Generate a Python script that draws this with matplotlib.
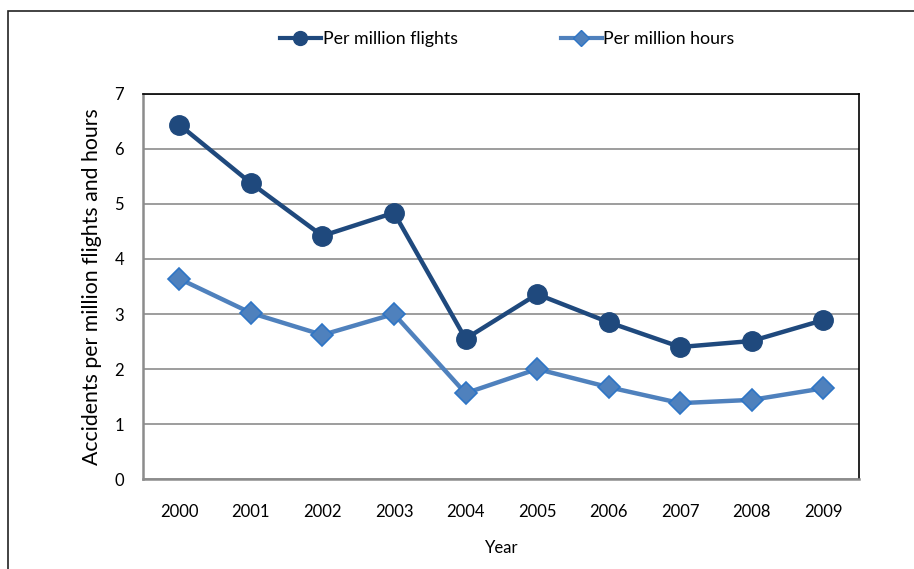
import matplotlib.pyplot as plt
from matplotlib.lines import Line2D
from matplotlib.patches import Rectangle

years = ['2000', '2001', '2002', '2003', '2004', '2005', '2006', '2007', '2008', '2009']
per_flights = [6.44, 5.38, 4.42, 4.84, 2.55, 3.36, 2.85, 2.40, 2.51, 2.89]
per_hours = [3.64, 3.02, 2.62, 3.00, 1.56, 2.00, 1.67, 1.38, 1.44, 1.65]

dark = '#1F497D'
light = '#4F81BD'
edge = '#2E75C6'

plt.rcParams['font.family'] = ['Lato', 'DejaVu Sans']

fig = plt.figure(figsize=(9.14, 5.69), dpi=100)
ax = fig.add_axes([0.157, 0.158, 0.783, 0.677])

# outer chart frame
fig.patches.append(Rectangle((8 / 914, -0.05), 1.0, 1.05 - 11 / 569, transform=fig.transFigure,
                             fill=False, edgecolor='#222222', linewidth=1.2))

x = range(len(years))
ax.plot(x, per_flights, color=dark, linewidth=3.2, marker='o', markersize=14,
        markerfacecolor=dark, markeredgecolor=dark, zorder=4)
ax.plot(x, per_hours, color=light, linewidth=3.2, marker='D', markersize=11,
        markerfacecolor=light, markeredgecolor=edge, markeredgewidth=1.2, zorder=3)

ax.set_xlim(-0.5, len(years) - 0.5)
ax.set_ylim(0, 7)
ax.set_yticks(range(0, 8))
ax.set_xticks(list(x))
ax.set_xticklabels(years)
ax.tick_params(axis='both', length=0, labelsize=12, colors='black')
ax.tick_params(axis='x', pad=18)
ax.tick_params(axis='y', pad=14)
ax.yaxis.grid(True, color='#8C8C8C', linewidth=1.2)
ax.set_axisbelow(True)

for side in ['left', 'bottom']:
    ax.spines[side].set_color('#8C8C8C')
    ax.spines[side].set_linewidth(1.8)
for side in ['top', 'right']:
    ax.spines[side].set_color('black')
    ax.spines[side].set_linewidth(1.2)

ax.set_ylabel('Accidents per million flights and hours', fontsize=15.3, labelpad=9)
ax.set_xlabel('Year', fontsize=12, labelpad=14)

handles = [
    Line2D([], [], color=dark, linewidth=3, marker='o', markersize=10, markerfacecolor=dark),
    Line2D([], [], color=light, linewidth=3, marker='D', markersize=8,
           markerfacecolor=light, markeredgecolor=edge),
]
fig.legend(handles, ['Per million flights', 'Per million hours'], loc='center',
           bbox_to_anchor=(0.555, 0.931), ncol=2, frameon=False, fontsize=12.8,
           handlelength=2.3, handletextpad=0.1, columnspacing=5.8)

fig.savefig('out.png', dpi=100)
